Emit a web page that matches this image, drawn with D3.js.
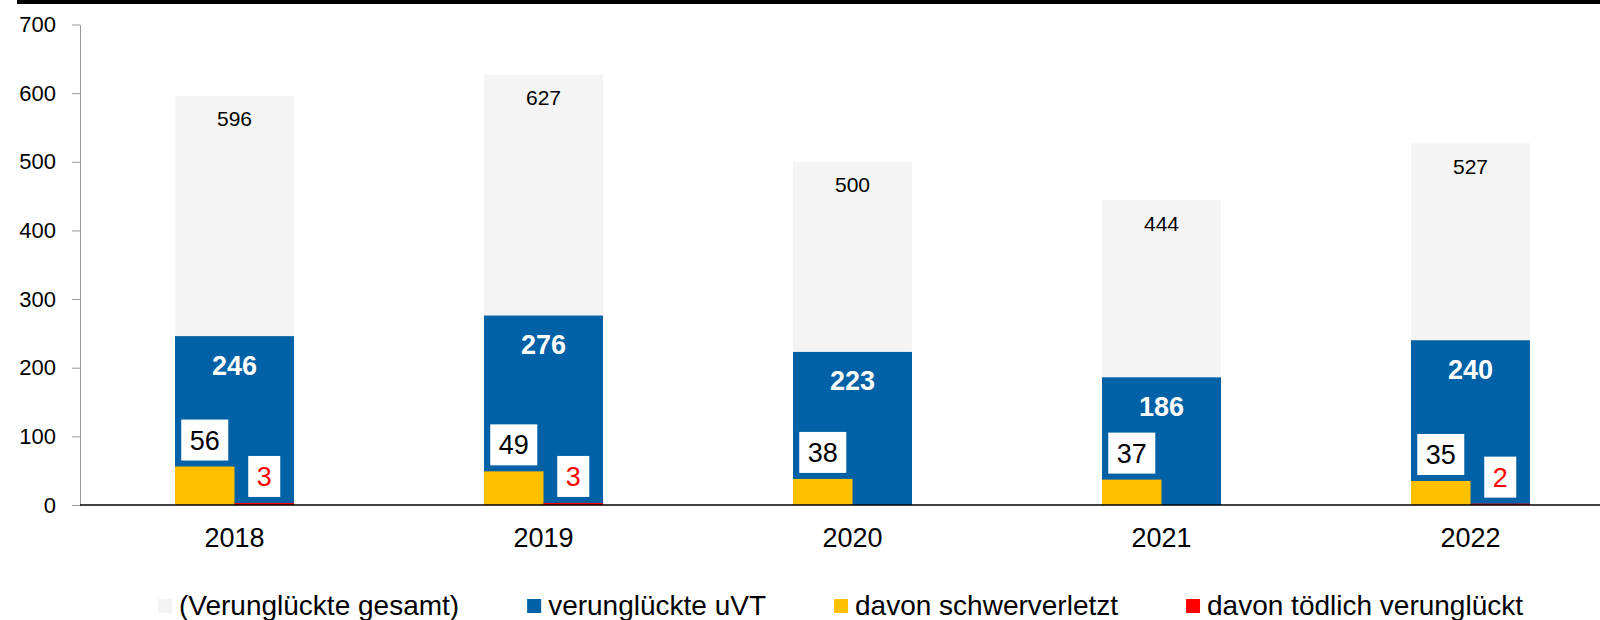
<!DOCTYPE html>
<html>
<head>
<meta charset="utf-8">
<script src="https://cdn.jsdelivr.net/npm/d3@7"></script>
<style>
  body { margin: 0; background: #fff; }
  svg { display: block; font-family: "Liberation Sans", Arial, sans-serif; }
</style>
</head>
<body>
<svg id="chart" width="1600" height="620"></svg>
<script>
// data
const years = ["2018", "2019", "2020", "2021", "2022"];
const gesamt = [596, 627, 500, 444, 527];
const uvt = [246, 276, 223, 186, 240];
const schwer = [56, 49, 38, 37, 35];
const toedlich = [3, 3, 0, 0, 2];
const yTicks = [0, 100, 200, 300, 400, 500, 600, 700];
const legendNames = ["(Verunglückte gesamt)", "verunglückte uVT", "davon schwerverletzt", "davon tödlich verunglückt"];

const colors = ["#f4f4f4", "#0061a6", "#ffc000", "#ff0000"];

let svg = d3.select("#chart");

// top border band
svg.append("rect")
  .attr("x", 17).attr("y", 0)
  .attr("width", 1583).attr("height", 4)
  .attr("fill", "#000");

let x = d3.scaleBand()
  .domain(years)
  .range([80, 1625])
  .paddingInner(0.615)
  .paddingOuter(0.3075);

let y = d3.scaleLinear()
  .domain([0, 700])
  .range([505, 24.5]);

let bw = x.bandwidth();

// y axis
let yAxis = svg.append("g")
  .attr("transform", "translate(80,0)")
  .call(d3.axisLeft(y).tickValues(yTicks).tickSize(8).tickSizeOuter(0).tickPadding(16));
yAxis.select(".domain").attr("stroke", "#999");
yAxis.selectAll(".tick line").attr("stroke", "#999");
yAxis.selectAll(".tick text")
  .attr("font-size", 22)
  .attr("font-family", "Liberation Sans, Arial, sans-serif")
  .attr("fill", "#000");

// total bars
svg.append("g").selectAll("rect")
  .data(years)
  .join("rect")
  .attr("x", d => x(d))
  .attr("y", (d, i) => y(gesamt[i]))
  .attr("width", bw)
  .attr("height", (d, i) => y(0) - y(gesamt[i]))
  .attr("fill", colors[0]);

// uVT bars
svg.append("g").selectAll("rect")
  .data(years)
  .join("rect")
  .attr("x", d => x(d))
  .attr("y", (d, i) => y(uvt[i]))
  .attr("width", bw)
  .attr("height", (d, i) => y(0) - y(uvt[i]))
  .attr("fill", colors[1]);

// schwerverletzt (left half)
svg.append("g").selectAll("rect")
  .data(years)
  .join("rect")
  .attr("x", d => x(d))
  .attr("y", (d, i) => y(schwer[i]))
  .attr("width", bw / 2)
  .attr("height", (d, i) => y(0) - y(schwer[i]))
  .attr("fill", colors[2]);

// tödlich (right half)
svg.append("g").selectAll("rect")
  .data(years)
  .join("rect")
  .attr("x", d => x(d) + bw / 2)
  .attr("y", (d, i) => y(toedlich[i]))
  .attr("width", bw / 2)
  .attr("height", (d, i) => y(0) - y(toedlich[i]))
  .attr("fill", colors[3]);

// x axis line
svg.append("line")
  .attr("x1", 80).attr("x2", 1600)
  .attr("y1", y(0)).attr("y2", y(0))
  .attr("stroke", "#000")
  .attr("stroke-width", 1.5);

// x labels
svg.append("g").selectAll("text")
  .data(years)
  .join("text")
  .attr("x", d => x(d) + bw / 2)
  .attr("y", 538)
  .attr("dy", "0.35em")
  .attr("text-anchor", "middle")
  .attr("font-size", 27)
  .text(d => d);

// total labels
svg.append("g").selectAll("text")
  .data(years)
  .join("text")
  .attr("x", d => x(d) + bw / 2)
  .attr("y", (d, i) => y(gesamt[i]) + 23)
  .attr("dy", "0.35em")
  .attr("text-anchor", "middle")
  .attr("font-size", 21)
  .text((d, i) => gesamt[i]);

// uVT labels
svg.append("g").selectAll("text")
  .data(years)
  .join("text")
  .attr("x", d => x(d) + bw / 2)
  .attr("y", (d, i) => y(uvt[i]) + 29)
  .attr("dy", "0.35em")
  .attr("text-anchor", "middle")
  .attr("font-size", 27)
  .attr("font-weight", "bold")
  .attr("fill", "#fff")
  .text((d, i) => uvt[i]);

// boxed labels above the small bars
function boxedLabels(values, offset, color) {
  let g = svg.append("g");
  years.forEach((yr, i) => {
    if (!values[i]) return;
    let cx = x(yr) + offset + bw / 4;
    let bottom = y(values[i]) - 6;
    let box = g.append("rect").attr("fill", "#fff");
    let t = g.append("text")
      .attr("x", cx)
      .attr("y", bottom - 20.5)
      .attr("dy", "0.35em")
      .attr("text-anchor", "middle")
      .attr("font-size", 27)
      .attr("fill", color)
      .text(values[i]);
    let w = t.node().getComputedTextLength() + 17;
    box.attr("x", cx - w / 2).attr("y", bottom - 41)
      .attr("width", w).attr("height", 41);
  });
}
boxedLabels(schwer, 0, "#000");
boxedLabels(toedlich, bw / 2, "#ff0000");

// legend
let lg = svg.append("g");
let lx = 158;
legendNames.forEach((name, i) => {
  lg.append("rect")
    .attr("x", lx).attr("y", 599)
    .attr("width", 14).attr("height", 14)
    .attr("fill", colors[i]);
  let t = lg.append("text")
    .attr("x", lx + 21)
    .attr("y", 605)
    .attr("dy", "0.35em")
    .attr("font-size", 28)
    .text(name);
  lx += 21 + t.node().getComputedTextLength() + 68;
});
</script>
</body>
</html>
